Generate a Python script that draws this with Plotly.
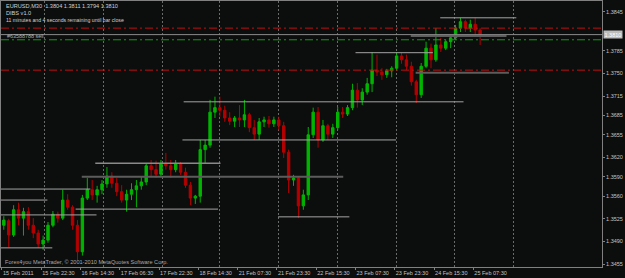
import plotly.graph_objects as go

# ---------------- data: EURUSD M30, shown as 2-hour (4-bar) candles ----------------
opens = [1.3515, 1.3522, 1.3500, 1.3539, 1.3526, 1.3536, 1.3515, 1.3503, 1.3486, 1.3492,
         1.3515, 1.3532, 1.3526, 1.3554, 1.3543, 1.3515, 1.3474, 1.3557, 1.3570, 1.3562,
         1.3570, 1.3579, 1.3591, 1.3580, 1.3567, 1.3554, 1.3563, 1.3570, 1.3576, 1.3582,
         1.3607, 1.3601, 1.3594, 1.3610, 1.3607, 1.3601, 1.3610, 1.3597, 1.3577, 1.3557,
         1.3560, 1.3632, 1.3639, 1.3690, 1.3697, 1.3693, 1.3681, 1.3676, 1.3681, 1.3678,
         1.3686, 1.3666, 1.3656, 1.3675, 1.3678, 1.3672, 1.3678, 1.3669, 1.3628, 1.3585,
         1.3588, 1.3545, 1.3562, 1.3655, 1.3690, 1.3647, 1.3669, 1.3656, 1.3666, 1.3690,
         1.3687, 1.3697, 1.3724, 1.3709, 1.3721, 1.3734, 1.3755, 1.3752, 1.3748, 1.3754,
         1.3758, 1.3777, 1.3771, 1.3761, 1.3737, 1.3717, 1.3761, 1.3789, 1.3771, 1.3794,
         1.3789, 1.3799, 1.3805, 1.3820, 1.3830, 1.3820, 1.3826, 1.3817]
highs = [1.3529, 1.3525, 1.3546, 1.3550, 1.3542, 1.3543, 1.3526, 1.3508, 1.3499, 1.3520,
         1.3537, 1.3536, 1.3570, 1.3563, 1.3546, 1.3523, 1.3562, 1.3588, 1.3585, 1.3576,
         1.3585, 1.3605, 1.3597, 1.3588, 1.3577, 1.3570, 1.3580, 1.3585, 1.3591, 1.3611,
         1.3616, 1.3615, 1.3616, 1.3627, 1.3616, 1.3616, 1.3613, 1.3604, 1.3582, 1.3562,
         1.3647, 1.3647, 1.3709, 1.3714, 1.3714, 1.3700, 1.3690, 1.3684, 1.3701, 1.3709,
         1.3689, 1.3678, 1.3681, 1.3683, 1.3684, 1.3683, 1.3683, 1.3675, 1.3632, 1.3593,
         1.3591, 1.3570, 1.3667, 1.3697, 1.3698, 1.3678, 1.3672, 1.3672, 1.3698, 1.3698,
         1.3701, 1.3734, 1.3735, 1.3727, 1.3743, 1.3783, 1.3779, 1.3758, 1.3757, 1.3761,
         1.3783, 1.3782, 1.3779, 1.3768, 1.3740, 1.3766, 1.3799, 1.3796, 1.3820, 1.3805,
         1.3802, 1.3809, 1.3825, 1.3836, 1.3833, 1.3833, 1.3836, 1.3820]
lows = [1.3508, 1.3481, 1.3497, 1.3515, 1.3499, 1.3508, 1.3495, 1.3480, 1.3477, 1.3488,
        1.3512, 1.3519, 1.3523, 1.3539, 1.3508, 1.3461, 1.3468, 1.3554, 1.3554, 1.3550,
        1.3563, 1.3573, 1.3573, 1.3560, 1.3550, 1.3536, 1.3554, 1.3543, 1.3570, 1.3577,
        1.3591, 1.3588, 1.3591, 1.3601, 1.3588, 1.3597, 1.3593, 1.3573, 1.3546, 1.3548,
        1.3550, 1.3611, 1.3635, 1.3681, 1.3683, 1.3675, 1.3670, 1.3667, 1.3667, 1.3667,
        1.3659, 1.3647, 1.3647, 1.3667, 1.3666, 1.3667, 1.3662, 1.3619, 1.3565, 1.3576,
        1.3526, 1.3539, 1.3554, 1.3650, 1.3635, 1.3644, 1.3647, 1.3650, 1.3662, 1.3681,
        1.3684, 1.3693, 1.3697, 1.3701, 1.3717, 1.3721, 1.3746, 1.3740, 1.3743, 1.3744,
        1.3755, 1.3765, 1.3755, 1.3731, 1.3704, 1.3712, 1.3758, 1.3758, 1.3768, 1.3783,
        1.3786, 1.3789, 1.3802, 1.3814, 1.3814, 1.3814, 1.3809, 1.3794]
closes = [1.3523, 1.3500, 1.3539, 1.3526, 1.3536, 1.3515, 1.3503, 1.3486, 1.3492, 1.3515,
          1.3532, 1.3526, 1.3554, 1.3543, 1.3515, 1.3474, 1.3557, 1.3570, 1.3562, 1.3570,
          1.3579, 1.3591, 1.3580, 1.3567, 1.3554, 1.3563, 1.3570, 1.3576, 1.3582, 1.3607,
          1.3601, 1.3594, 1.3610, 1.3607, 1.3601, 1.3610, 1.3597, 1.3577, 1.3557, 1.3560,
          1.3632, 1.3639, 1.3690, 1.3697, 1.3693, 1.3681, 1.3676, 1.3681, 1.3678, 1.3686,
          1.3666, 1.3656, 1.3675, 1.3678, 1.3672, 1.3678, 1.3669, 1.3628, 1.3585, 1.3588,
          1.3545, 1.3562, 1.3655, 1.3690, 1.3647, 1.3669, 1.3656, 1.3666, 1.3690, 1.3687,
          1.3697, 1.3724, 1.3709, 1.3721, 1.3734, 1.3755, 1.3752, 1.3748, 1.3754, 1.3758,
          1.3777, 1.3771, 1.3761, 1.3737, 1.3717, 1.3761, 1.3789, 1.3771, 1.3794, 1.3789,
          1.3799, 1.3805, 1.3820, 1.3830, 1.3820, 1.3826, 1.3817, 1.3810]

BARS_PER_CANDLE = 4  # M30 bars merged into each drawn candle

# time axis (bar index of the M30 chart)
time_labels = ["15 Feb 2011", "15 Feb 22:30", "16 Feb 14:30", "17 Feb 06:30", "17 Feb 22:30",
               "18 Feb 14:30", "21 Feb 07:30", "21 Feb 23:30", "22 Feb 15:30", "23 Feb 07:30",
               "23 Feb 23:30", "24 Feb 15:30", "25 Feb 07:30"]
time_label_bars = [0, 32, 64, 96, 128, 160, 192, 224, 256, 288, 320, 352, 384]
day_break_bars = [35, 83, 131, 177, 225, 273, 321, 369, 417]

price_ticks = [1.3845, 1.3785, 1.3750, 1.3715, 1.3685, 1.3655, 1.3620, 1.3590,
               1.3560, 1.3525, 1.3490, 1.3455]

# horizontal level segments (price, first bar, last bar, kind)
level_prices = [1.3836, 1.3808, 1.3782, 1.3751, 1.3706, 1.3647, 1.3611, 1.3590,
                1.3571, 1.3554, 1.3540, 1.3531, 1.3528, 1.3480]
level_start = [357, 333, 288, 337, 148, 147, 76, 65, -2, -2, 60, -2, 225, -2]
level_end = [419, 411, 351, 413, 376, 321, 178, 278, 72, 37, 176, 77, 283, 41]
level_kind = ["light", "dark", "light", "dark", "light", "light", "mid", "dark",
              "light", "light", "light", "light", "light", "light"]

# order lines
sl_tp_prices = [1.3820, 1.3755]
order_price = 1.3802
bid_price = 1.3810
symbol_header = "EURUSD,M30  1.3804 1.3811 1.3794 1.3810"

# ---------------- figure ----------------
BG = "#0c0d0d"
FONT = "Liberation Sans"
x_idx = [BARS_PER_CANDLE * k + 1.5 for k in range(len(closes))]
X0, X1 = -0.8, 488.8

fig = go.Figure()

level_style = {"light": ("#a4a4a4", 1), "mid": ("#8a8a8a", 1.5), "dark": ("#5c5c5c", 2)}
for p, s, e, kd in zip(level_prices, level_start, level_end, level_kind):
    c, w = level_style[kd]
    fig.add_trace(go.Scatter(x=[s, e], y=[p, p], mode="lines",
                             line=dict(color=c, width=w), hoverinfo="skip", showlegend=False))

for p in sl_tp_prices:
    fig.add_trace(go.Scatter(x=[X0, X1], y=[p, p], mode="lines",
                             line=dict(color="#c01010", width=1, dash="8px,3px,2px,3px"),
                             hoverinfo="skip", showlegend=False))
fig.add_trace(go.Scatter(x=[X0, X1], y=[order_price, order_price], mode="lines",
                         line=dict(color="#10a010", width=1, dash="8px,3px,2px,3px"),
                         hoverinfo="skip", showlegend=False))
fig.add_trace(go.Scatter(x=[X0, X1], y=[bid_price, bid_price], mode="lines",
                         line=dict(color="#8c8c8c", width=1), hoverinfo="skip", showlegend=False))

fig.add_trace(go.Candlestick(
    x=x_idx, open=opens, high=highs, low=lows, close=closes,
    increasing=dict(line=dict(color="#00b400", width=1), fillcolor="#00b400"),
    decreasing=dict(line=dict(color="#b40000", width=1), fillcolor="#b40000"),
    whiskerwidth=0, showlegend=False, hoverinfo="skip"))

axis_col = "#808080"
fig.update_layout(
    width=625, height=278,
    margin=dict(l=1, r=23, t=1, b=11),
    paper_bgcolor=BG, plot_bgcolor=BG,
    font=dict(family=FONT, color="#c8c8c8", size=6),
    showlegend=False,
    xaxis=dict(
        range=[X0, X1], rangeslider=dict(visible=False),
        tickmode="array", tickvals=time_label_bars, ticktext=time_labels, tickangle=0,
        ticks="outside", ticklen=2, tickcolor=axis_col, ticklabelposition="outside right",
        tickfont=dict(size=5.5, color="#c4c4c4", family=FONT),
        showgrid=False, zeroline=False, showline=True, linecolor=axis_col, mirror=True,
        minor=dict(tickmode="array", tickvals=day_break_bars, showgrid=True,
                   gridcolor="#6a6a6a", griddash="2px,2px", gridwidth=1, ticks=""),
    ),
    yaxis=dict(
        range=[1.34504, 1.38620], side="right",
        tickmode="array", tickvals=price_ticks, ticktext=[f"{v:.4f}" for v in price_ticks],
        ticks="outside", ticklen=2, tickcolor=axis_col,
        tickfont=dict(size=5.5, color="#c4c4c4", family=FONT),
        showgrid=False, zeroline=False, showline=True, linecolor=axis_col, mirror=True,
    ),
)


def px_x(xp):
    return (xp - 1) / 601.0


def px_y(yp):
    return 1 - (yp - 1) / 266.0


texts = [
    (symbol_header, 4, 6, 5.6, "#d0d0d0"),
    ("DIBS v1.0", 4, 13, 5.6, "#d0d0d0"),
    ("11 minutes and 4 seconds remaining until bar close", 4, 20, 5.2, "#d0d0d0"),
    ("#63588788 sell", 5, 36, 5.4, "#b4b4b4"),
    ("Forex4you MetaTrader, \u00a9 2001-2010 MetaQuotes Software Corp.", 3, 262, 5.6, "#a8a8a8"),
]
for t, xp, yp, fs, col in texts:
    fig.add_annotation(text=t, xref="paper", yref="paper", x=px_x(xp), y=px_y(yp),
                       xanchor="left", yanchor="middle", showarrow=False,
                       font=dict(size=fs, color=col, family=FONT))

fig.add_annotation(text=f"{bid_price:.4f}", xref="paper", yref="y", x=1.0, y=bid_price,
                   xanchor="left", yanchor="middle", showarrow=False, xshift=1,
                   bgcolor="#bdbdbd", borderpad=0.5,
                   font=dict(size=5.5, color="#ffffff", family=FONT))

fig.write_html("out.html")
